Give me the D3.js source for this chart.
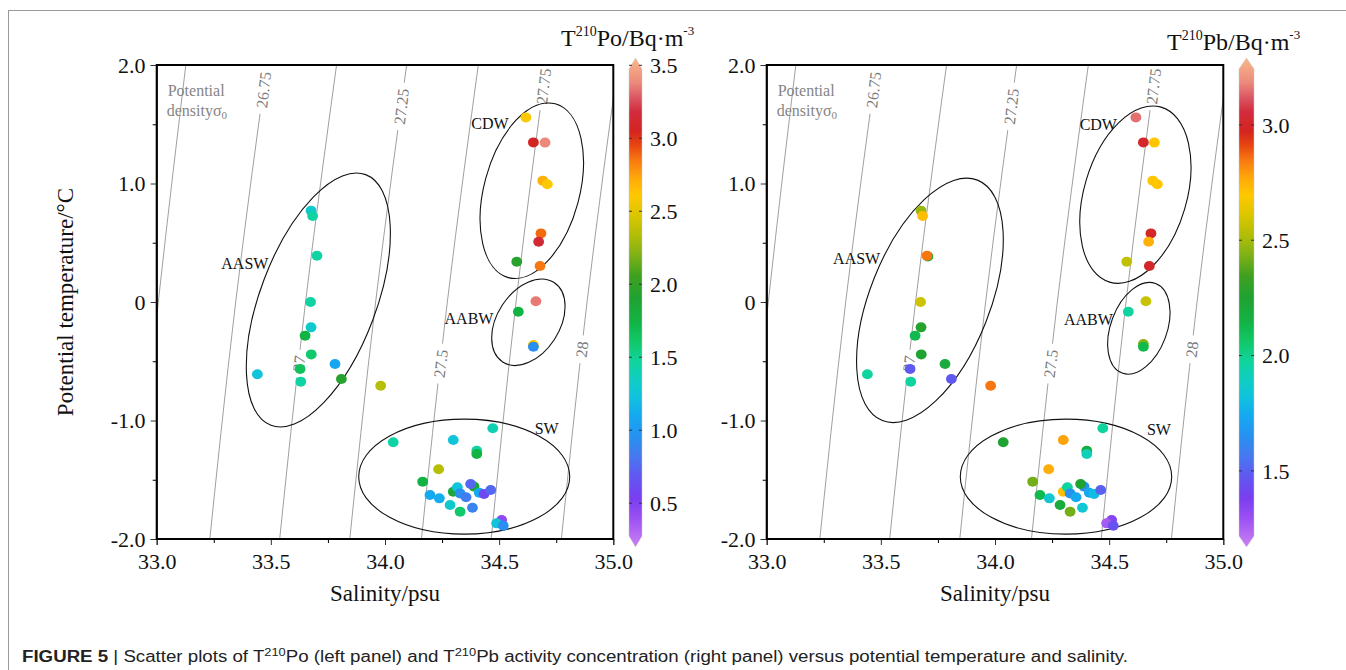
<!DOCTYPE html>
<html>
<head>
<meta charset="utf-8">
<script src="https://cdn.jsdelivr.net/npm/d3@7"></script>
<style>
  body { margin: 0; background: #fff; }
  svg { display: block; }
</style>
</head>
<body>
<svg id="chart" width="1346" height="670"></svg>
<script>
// ---- data ----
const salinityTicks = [33.0, 33.5, 34.0, 34.5, 35.0];
const tempTicks = [-2, -1, 0, 1, 2];

// left panel: T210Po
const poSal  = [34.617,34.650,34.701,34.691,34.711,34.683,34.673,34.577,34.679,
                34.661,34.584,34.650,34.650,
                33.676,33.683,33.702,33.674,33.676,33.650,33.677,33.781,33.628,33.441,33.631,33.809,33.981,
                34.472,34.299,34.036,34.402,34.402,34.235,34.165,34.299,34.390,34.317,34.375,34.329,34.355,
                34.413,34.434,34.463,34.197,34.238,34.285,34.329,34.383,34.511,34.489,34.518];
const poTemp = [1.558,1.347,1.345,1.024,0.993,0.579,0.509,0.340,0.304,
                0.006,-0.082,-0.363,-0.377,
                0.771,0.726,0.391,0.000,-0.214,-0.284,-0.442,-0.523,-0.565,-0.610,-0.672,-0.650,-0.706,
                -1.066,-1.165,-1.184,-1.255,-1.283,-1.412,-1.516,-1.601,-1.558,-1.564,-1.536,-1.615,-1.648,
                -1.609,-1.620,-1.586,-1.629,-1.657,-1.713,-1.769,-1.736,-1.840,-1.868,-1.888];
const poVal  = [2.60,3.05,3.38,2.70,2.60,2.88,3.15,1.95,2.85,
                3.35,1.75,2.60,0.95,
                1.30,1.45,1.45,1.45,1.30,1.75,1.60,1.08,1.65,1.25,1.45,1.95,2.35,
                1.40,1.25,1.45,1.45,1.75,2.35,1.75,1.85,1.85,1.25,0.75,0.95,0.85,
                1.10,0.60,0.75,1.10,1.12,1.30,1.60,0.88,0.45,1.25,0.95];

// right panel: T210Pb
const pbSal  = [34.617,34.650,34.698,34.691,34.711,34.683,34.673,34.577,34.676,
                34.661,34.584,34.650,34.650,
                33.676,33.683,33.706,33.702,33.674,33.676,33.650,33.677,33.781,33.628,33.441,33.631,33.809,33.981,
                34.472,34.299,34.036,34.402,34.402,34.235,34.165,34.197,34.238,34.285,34.329,34.383,
                34.299,34.317,34.329,34.355,34.390,34.375,34.413,34.434,34.463,34.511,34.489,34.518];
const pbTemp = [1.558,1.347,1.345,1.024,0.993,0.579,0.509,0.340,0.304,
                0.006,-0.082,-0.354,-0.377,
                0.771,0.726,0.385,0.391,0.000,-0.214,-0.284,-0.442,-0.523,-0.565,-0.610,-0.672,-0.650,-0.706,
                -1.066,-1.165,-1.184,-1.255,-1.283,-1.412,-1.516,-1.629,-1.657,-1.713,-1.769,-1.736,
                -1.601,-1.564,-1.615,-1.648,-1.558,-1.536,-1.609,-1.620,-1.586,-1.840,-1.868,-1.888];
const pbVal  = [3.15,3.00,2.70,2.70,2.70,3.00,2.75,2.55,3.00,
                2.57,1.97,2.45,2.12,
                2.48,2.72,2.20,2.85,2.58,2.27,2.12,2.25,2.20,1.48,1.97,1.97,1.48,2.85,
                1.97,2.78,2.25,2.20,1.92,2.76,2.42,2.12,1.85,2.20,2.42,1.85,
                2.72,1.97,1.65,1.74,1.65,2.25,1.74,1.80,1.50,1.35,1.27,1.45];

// isopycnals (potential density sigma0), salinity at the temperatures below
const contourLevels = ['26.5', '26.75', '27', '27.25', '27.5', '27.75', '28'];
const contourTemp = [2.2, 0, -2.2];
const contourSal = [
  [33.140, 33.007, 32.890],
  [33.496, 33.346, 33.222],
  [33.802, 33.652, 33.528],
  [34.109, 33.959, 33.835],
  [34.423, 34.273, 34.149],
  [34.719, 34.574, 34.455],
  [35.034, 34.885, 34.762]
];
const contourLabelTemp = [null, 1.79, -0.52, 1.65, -0.52, 1.82, -0.40];

// colour bar ranges and ticks
const poRange = [0.2, 3.55];
const pbRange = [1.17, 3.29];
const poBarTicks = [0.5, 1.0, 1.5, 2.0, 2.5, 3.0, 3.5];
const pbBarTicks = [1.5, 2.0, 2.5, 3.0];

// rainbow palette of the colour bar, bottom to top
const palette = [
  [0.000, '#cc80f4'], [0.060, '#9a50f2'], [0.100, '#7a3ef0'], [0.145, '#6058f0'],
  [0.185, '#4878f0'], [0.225, '#2890f0'], [0.270, '#14aaf0'], [0.310, '#10c4dc'],
  [0.345, '#10cec0'], [0.380, '#10d49c'], [0.420, '#10c868'], [0.460, '#12b444'],
  [0.510, '#20a232'], [0.555, '#40a020'], [0.595, '#7cb018'], [0.635, '#b0bc08'],
  [0.680, '#dcc600'], [0.720, '#ffc800'], [0.755, '#ffa80a'], [0.790, '#f87a10'],
  [0.820, '#e84810'], [0.850, '#d42420'], [0.890, '#d22c3c'], [0.920, '#dc5864'],
  [0.950, '#ec8a7c'], [1.000, '#f8b888']
];

// water mass ellipses (centre in data units, semi axes in px, tilt in degrees)
const leftMasses = [
  { name: 'AASW', s: 33.708, t: 0.017, a: 134, b: 58, rot: 20.7, ls: 33.386, lt: 0.329 },
  { name: 'CDW', s: 34.643, t: 0.939, a: 90, b: 47.7, rot: 15.1, ls: 34.46, lt: 1.51 },
  { name: 'AABW', s: 34.628, t: -0.171, a: 47.3, b: 31.2, rot: 32.9, ls: 34.368, lt: -0.135 },
  { name: 'SW', s: 34.347, t: -1.474, a: 57.5, b: 105.5, rot: 0, ls: 34.708, lt: -1.063 }
];
const rightMasses = [
  { name: 'AASW', s: 33.715, t: 0.014, a: 129.3, b: 60, rot: 21.6, ls: 33.394, lt: 0.369 },
  { name: 'CDW', s: 34.615, t: 0.906, a: 91.2, b: 51.3, rot: 16.4, ls: 34.4525, lt: 1.502 },
  { name: 'AABW', s: 34.630, t: -0.222, a: 47.8, b: 28.1, rot: 20.5, ls: 34.409, lt: -0.146 },
  { name: 'SW', s: 34.311, t: -1.474, a: 57.5, b: 105.7, rot: 0, ls: 34.718, lt: -1.074 }
];

// ---- drawing ----
const svg = d3.select('#chart');
const serif = '"Liberation Serif", "Times New Roman", serif';
svg.append('rect').attr('width', 1346).attr('height', 670).attr('fill', '#fff');

// figure frame lines
svg.append('line').attr('x1', 8).attr('x2', 1346).attr('y1', 10.5).attr('y2', 10.5)
  .attr('stroke', '#9a9a9a').attr('stroke-width', 1);
svg.append('line').attr('x1', 8.5).attr('x2', 8.5).attr('y1', 10).attr('y2', 670)
  .attr('stroke', '#9a9a9a').attr('stroke-width', 1);

const defs = svg.append('defs');

function makeColor(range) {
  const [lo, hi] = range;
  return d3.scaleLinear()
    .domain(palette.map(p => lo + p[0] * (hi - lo)))
    .range(palette.map(p => p[1]))
    .interpolate(d3.interpolateRgb)
    .clamp(true);
}

function drawPanel(p) {
  const x = d3.scaleLinear().domain([33, 35]).range([p.x0, p.x0 + 456.6]);
  const y = d3.scaleLinear().domain([-2, 2]).range([539, 65]);
  const color = makeColor(p.range);

  defs.append('clipPath').attr('id', 'clip-' + p.id)
    .append('rect').attr('x', x(33)).attr('y', y(2))
    .attr('width', x(35) - x(33)).attr('height', y(-2) - y(2));

  const g = svg.append('g');
  const inner = g.append('g').attr('clip-path', `url(#clip-${p.id})`);

  // isopycnals
  const line = d3.line().x(d => x(d[0])).y(d => y(d[1])).curve(d3.curveNatural);
  contourSal.forEach((sals, i) => {
    const pts = sals.map((s, j) => [s, contourTemp[j]]);
    inner.append('path').attr('d', line(pts))
      .attr('fill', 'none').attr('stroke', '#949494').attr('stroke-width', 0.9);
  });

  // isopycnal labels (with white gap)
  contourSal.forEach((sals, i) => {
    const lt = contourLabelTemp[i];
    if (lt === null) return;
    const sAt = d3.scaleLinear().domain([-2.2, 0, 2.2]).range([sals[2], sals[1], sals[0]]);
    const cx = x(sAt(lt)), cy = y(lt);
    const ang = Math.atan2(y(2.2) - y(-2.2), x(sals[0]) - x(sals[2])) * 180 / Math.PI;
    const lg = inner.append('g').attr('transform', `translate(${cx},${cy}) rotate(${ang})`);
    const bg = lg.append('rect').attr('fill', '#fff');
    const tx = lg.append('text').text(contourLevels[i])
      .attr('text-anchor', 'middle').attr('dy', '0.35em')
      .attr('font-family', serif).attr('font-size', 16).attr('fill', '#7a7a7a');
    const w = tx.node().getComputedTextLength() + 12;
    bg.attr('x', -w / 2).attr('y', -8).attr('width', w).attr('height', 16);
  });

  // "Potential density sigma0"
  const dl = g.append('text').attr('font-family', serif).attr('font-size', 16).attr('fill', '#858585');
  dl.append('tspan').attr('x', x(33) + 11).attr('y', 96).text('Potential');
  dl.append('tspan').attr('x', x(33) + 10).attr('y', 116).text('densityσ');
  dl.append('tspan').attr('font-size', 11).attr('dy', 3).text('0');

  // water mass ellipses
  p.masses.forEach(m => {
    inner.append('ellipse')
      .attr('transform', `translate(${x(m.s)},${y(m.t)}) rotate(${m.rot})`)
      .attr('rx', m.b).attr('ry', m.a)
      .attr('fill', 'none').attr('stroke', '#111').attr('stroke-width', 1.1);
  });

  // samples
  inner.selectAll('ellipse.dot')
    .data(p.sal.map((s, i) => ({ s, t: p.temp[i], v: p.val[i] })))
    .enter().append('ellipse').attr('class', 'dot')
    .attr('cx', d => x(d.s)).attr('cy', d => y(d.t))
    .attr('rx', 5.4).attr('ry', 5.0)
    .attr('fill', d => color(d.v));

  // water mass names
  p.masses.forEach(m => {
    g.append('text').text(m.name)
      .attr('x', x(m.ls)).attr('y', y(m.lt)).attr('dy', '0.35em')
      .attr('text-anchor', 'middle')
      .attr('font-family', serif).attr('font-size', 16).attr('fill', '#111');
  });

  // axes
  const xAxis = g.append('g').attr('transform', `translate(0,${y(-2)})`)
    .call(d3.axisBottom(x).tickValues(salinityTicks).tickSize(6).tickFormat(d3.format('.1f')));
  g.append('g').attr('transform', `translate(0,${y(-2)})`)
    .call(d3.axisBottom(x).tickValues(d3.range(33.25, 35, 0.5)).tickSize(4).tickFormat(''))
    .call(a => a.select('.domain').remove());
  const yAxis = g.append('g').attr('transform', `translate(${x(33)},0)`)
    .call(d3.axisLeft(y).tickValues(tempTicks).tickSize(6)
      .tickFormat(d => d === 0 ? '0' : d.toFixed(1)));
  g.append('g').attr('transform', `translate(${x(33)},0)`)
    .call(d3.axisLeft(y).tickValues([-1.5, -0.5, 0.5, 1.5]).tickSize(4).tickFormat(''))
    .call(a => a.select('.domain').remove());
  [xAxis, yAxis].forEach(a => {
    a.selectAll('text').attr('font-family', serif).attr('font-size', 22).attr('fill', '#111');
    a.selectAll('line').attr('stroke', '#333');
  });
  xAxis.selectAll('text').attr('dy', '0.95em');
  yAxis.selectAll('text').attr('dx', '-0.1em');

  // plot frame
  g.append('rect').attr('x', x(33)).attr('y', y(2))
    .attr('width', x(35) - x(33)).attr('height', y(-2) - y(2))
    .attr('fill', 'none').attr('stroke', '#000').attr('stroke-width', 2);

  g.append('text').text('Salinity/psu')
    .attr('x', (x(33) + x(35)) / 2).attr('y', 601).attr('text-anchor', 'middle')
    .attr('font-family', serif).attr('font-size', 23).attr('fill', '#111');

  // colour bar
  const cb = p.bar;
  const yc = d3.scaleLinear().domain(p.range).range([547, 58]);
  const grad = defs.append('linearGradient').attr('id', 'grad-' + p.id)
    .attr('x1', 0).attr('x2', 0).attr('y1', 1).attr('y2', 0);
  palette.forEach(s => grad.append('stop').attr('offset', s[0]).attr('stop-color', s[1]));
  const top = yc(p.range[1]), bot = yc(p.range[0]), tip = 11;
  const poly = [[cb.x, top + tip], [cb.x + cb.w / 2, top], [cb.x + cb.w, top + tip],
                [cb.x + cb.w, bot - tip], [cb.x + cb.w / 2, bot], [cb.x, bot - tip]];
  g.append('path').attr('d', 'M' + poly.map(q => q.join(',')).join('L') + 'Z')
    .attr('fill', `url(#grad-${p.id})`).attr('stroke', '#c8c8c8').attr('stroke-width', 0.5);
  p.barTicks.forEach(v => {
    g.append('line').attr('x1', cb.x).attr('x2', cb.x + 3).attr('y1', yc(v)).attr('y2', yc(v))
      .attr('stroke', '#333').attr('stroke-width', 1);
    g.append('line').attr('x1', cb.x + cb.w - 3).attr('x2', cb.x + cb.w).attr('y1', yc(v)).attr('y2', yc(v))
      .attr('stroke', '#333').attr('stroke-width', 1);
    g.append('text').text(v.toFixed(1))
      .attr('x', cb.x + cb.w + 8).attr('y', yc(v)).attr('dy', '0.35em')
      .attr('font-family', serif).attr('font-size', 22).attr('fill', '#111');
  });
  const tt = g.append('text').attr('x', p.titleX).attr('y', p.titleY)
    .attr('font-family', serif).attr('font-size', 24).attr('fill', '#111');
  tt.append('tspan').text('T');
  tt.append('tspan').attr('font-size', 14).attr('dy', -10).text('210');
  tt.append('tspan').attr('dy', 10).text(p.isotope + '/Bq·m');
  tt.append('tspan').attr('font-size', 13).attr('dy', -11).text('-3');
}

drawPanel({ id: 'po', x0: 156.7, sal: poSal, temp: poTemp, val: poVal, range: poRange,
  barTicks: poBarTicks, masses: leftMasses, bar: { x: 629, w: 13 },
  isotope: 'Po', titleX: 561, titleY: 46 });
drawPanel({ id: 'pb', x0: 766.7, sal: pbSal, temp: pbTemp, val: pbVal, range: pbRange,
  barTicks: pbBarTicks, masses: rightMasses, bar: { x: 1239, w: 15 },
  isotope: 'Pb', titleX: 1167, titleY: 50 });

// y axis title
svg.append('text').text('Potential temperature/°C')
  .attr('transform', 'translate(73,302) rotate(-90)')
  .attr('text-anchor', 'middle')
  .attr('font-family', serif).attr('font-size', 23).attr('fill', '#111');

// caption
const cap = svg.append('text').attr('x', 22).attr('y', 662)
  .attr('font-family', '"Liberation Sans", Arial, sans-serif')
  .attr('font-size', 16).attr('fill', '#222')
  .attr('textLength', 1106).attr('lengthAdjust', 'spacingAndGlyphs');
cap.append('tspan').attr('font-weight', 'bold').text('FIGURE 5');
cap.append('tspan').text(' | Scatter plots of T');
cap.append('tspan').attr('font-size', 11).attr('dy', -6).text('210');
cap.append('tspan').attr('dy', 6).text('Po (left panel) and T');
cap.append('tspan').attr('font-size', 11).attr('dy', -6).text('210');
cap.append('tspan').attr('dy', 6).text('Pb activity concentration (right panel) versus potential temperature and salinity.');
</script>
</body>
</html>
